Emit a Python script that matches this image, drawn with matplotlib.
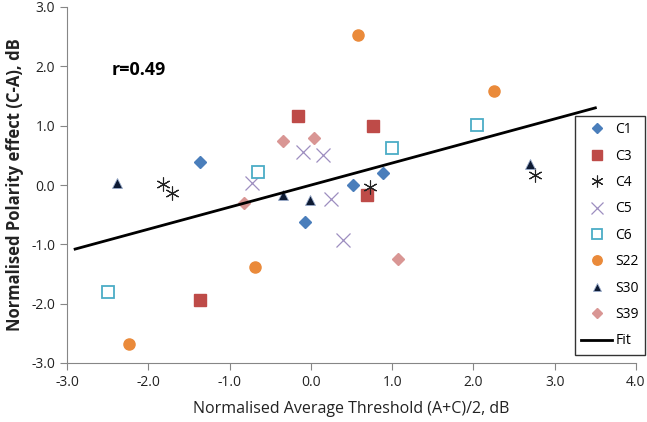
import matplotlib
matplotlib.use("Agg")
import matplotlib.pyplot as plt

plt.rcParams['font.family'] = ['Open Sans', 'DejaVu Sans']

series = ["C1", "C3", "C4", "C5", "C6", "S22", "S30", "S39"]
c1_x = [-1.36, 0.52, 0.89, -0.07]
c1_y = [0.39, 0.0, 0.21, -0.62]
c3_x = [-0.16, 0.76, 0.69, -1.36]
c3_y = [1.17, 0.99, -0.17, -1.94]
c4_x = [-1.82, -1.71, 0.73, 2.76]
c4_y = [0.01, -0.14, -0.04, 0.17]
c5_x = [-0.10, 0.15, -0.73, 0.25, 0.39]
c5_y = [0.56, 0.51, 0.04, -0.23, -0.92]
c6_x = [-0.65, 1.00, 2.05, -2.49]
c6_y = [0.22, 0.63, 1.01, -1.81]
s22_x = [0.58, 2.25, -0.69, -2.24]
s22_y = [2.52, 1.58, -1.38, -2.68]
s30_x = [-2.39, -0.34, -0.01, 2.70]
s30_y = [0.03, -0.17, -0.25, 0.35]
s39_x = [-0.34, 0.04, -0.82, 1.07]
s39_y = [0.74, 0.80, -0.31, -1.24]
fit_x = [-2.9, 3.5]
fit_y = [-1.08, 1.30]
r_text = "r=0.49"

fig = plt.figure(figsize=(6.47, 4.22), dpi=100)
ax = fig.add_axes([67/647, 1-363/422, (636-67)/647, (363-7)/422])

ax.plot(c1_x, c1_y, ls='none', marker='D', ms=6, color='#4a7ebb', label='C1')
ax.plot(c3_x, c3_y, ls='none', marker='s', ms=8, color='#be4b48', label='C3')
ax.plot(c4_x, c4_y, ls='none', marker=(6, 2, 0), ms=10, mew=0.8, color='#222222', label='C4')
ax.plot(c5_x, c5_y, ls='none', marker='x', ms=10, mew=0.9, color='#9d8ec0', label='C5')
ax.plot(c6_x, c6_y, ls='none', marker='s', ms=8, mfc='white', mec='#4bacc6', mew=1.3, label='C6')
ax.plot(s22_x, s22_y, ls='none', marker='o', ms=8, color='#ea8a3a', label='S22')
ax.plot(s30_x, s30_y, ls='none', marker='^', ms=7, mfc='#0d1a33', mec='#9aaccc', mew=0.6, label='S30')
ax.plot(s39_x, s39_y, ls='none', marker='D', ms=6, color='#d99694', label='S39')
ax.plot(fit_x, fit_y, color='black', lw=2, label='Fit')

ax.text(-2.45, 1.93, r_text, fontsize=13, fontweight='bold', va='center', ha='left')

ax.set_xlim(-3, 4)
ax.set_ylim(-3, 3)
ax.set_xticks([-3, -2, -1, 0, 1, 2, 3, 4])
ax.set_yticks([-3, -2, -1, 0, 1, 2, 3])
ax.set_xticklabels([f"{v:.1f}" for v in ax.get_xticks()])
ax.set_yticklabels([f"{v:.1f}" for v in ax.get_yticks()])
for s in ['top', 'right']:
    ax.spines[s].set_visible(False)
for s in ['left', 'bottom']:
    ax.spines[s].set_color('#868686')
ax.tick_params(direction='out', length=5, color='#868686', labelsize=10, labelcolor='#222222')

ax.set_xlabel("Normalised Average Threshold (A+C)/2, dB", fontsize=11.5, color='#222222', labelpad=8)
ax.set_ylabel("Normalised Polarity effect (C-A), dB", fontsize=12, fontweight='bold', color='#222222', labelpad=5)

leg = ax.legend(loc='upper left', frameon=True, fancybox=False, fontsize=10,
                labelspacing=0.82, handlelength=2.2, markerscale=0.85,
                borderpad=0.45, handletextpad=0.25, borderaxespad=0)
leg.set_bbox_to_anchor((575/647, 1-116/422), transform=fig.transFigure)
leg.get_frame().set_edgecolor('black')
leg.get_frame().set_linewidth(1.0)
leg.set_zorder(5)

fig.savefig("out.png", dpi=100)
